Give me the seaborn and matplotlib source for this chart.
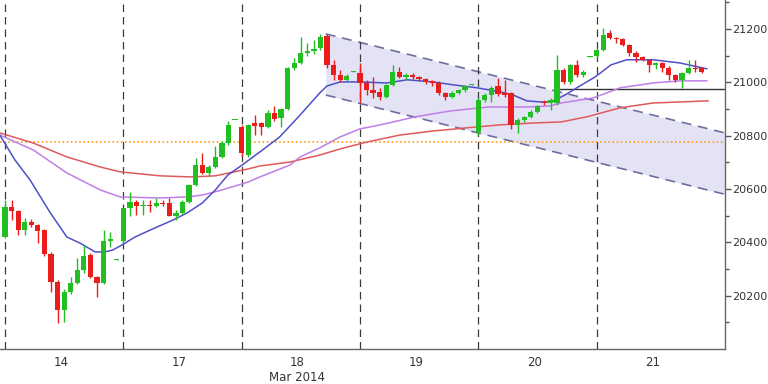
import matplotlib
matplotlib.use("Agg")
import matplotlib.pyplot as plt
import seaborn as sns
import numpy as np

# hourly candles, 14-21 Mar 2014 (18 bars per day)
opens = [20421, 20533, 20517, 20446, 20477, 20465, 20446, 20356, 20252, 20146, 20215, 20249, 20296, 20352, 20271, 20249, 20405, 20335,
         20405, 20527, 20552, 20536, 20540, 20536, 20546, 20546, 20500, 20509, 20552, 20615, 20690, 20661, 20684, 20721, 20771, 20858,
         20831, 20727, 20848, 20846, 20833, 20886, 20865, 20899, 21052, 21073, 21109, 21118, 21128, 21174, 21065, 21027, 21010, 21039,
         21034, 20996, 20971, 20965, 20946, 20990, 21040, 21019, 21027, 21021, 21011, 21004, 20996, 20961, 20946, 20961, 20969, 20991,
         20815, 20934, 20952, 20984, 20960, 20958, 20840, 20859, 20871, 20890, 20927, 20921, 20921, 21046, 21002, 21065, 21027, 21095,
         21099, 21121, 21184, 21167, 21161, 21140, 21111, 21096, 21084, 21065, 21071, 21052, 21027, 21009, 21036, 21055, 21052]
highs = [20559, 20559, 20521, 20490, 20487, 20470, 20450, 20365, 20260, 20225, 20271, 20340, 20390, 20360, 20275, 20446, 20440, 20337,
         20530, 20590, 20560, 20560, 20557, 20565, 20560, 20565, 20520, 20560, 20620, 20715, 20736, 20690, 20759, 20780, 20855, 20860,
         20840, 20845, 20877, 20850, 20895, 20909, 20905, 21058, 21090, 21171, 21146, 21158, 21180, 21180, 21083, 21046, 21030, 21041,
         21071, 21010, 21021, 20980, 20995, 21065, 21058, 21035, 21035, 21025, 21015, 21010, 21005, 20965, 20966, 20976, 20990, 20994,
         20940, 20960, 20985, 21015, 21010, 20962, 20865, 20875, 20895, 20915, 20935, 20940, 21102, 21052, 21069, 21083, 21045, 21097,
         21126, 21202, 21196, 21170, 21165, 21142, 21115, 21100, 21088, 21075, 21075, 21060, 21030, 21040, 21084, 21084, 21058]
lows = [20416, 20484, 20427, 20427, 20458, 20396, 20349, 20215, 20097, 20102, 20205, 20245, 20285, 20265, 20196, 20245, 20383, 20333,
        20398, 20500, 20502, 20502, 20515, 20533, 20535, 20497, 20483, 20505, 20548, 20610, 20655, 20650, 20680, 20715, 20765, 20857,
        20725, 20720, 20802, 20802, 20828, 20855, 20833, 20896, 21045, 21068, 21100, 21105, 21120, 21055, 21009, 21000, 21005, 21038,
        20921, 20952, 20940, 20933, 20940, 20985, 21015, 21010, 21012, 21005, 20993, 20985, 20952, 20934, 20940, 20955, 20965, 20989,
        20802, 20925, 20925, 20948, 20945, 20826, 20809, 20852, 20865, 20885, 20915, 20896, 20915, 20995, 20995, 21020, 21020, 21094,
        21092, 21115, 21160, 21146, 21135, 21100, 21076, 21078, 21039, 21050, 21040, 21009, 21000, 20977, 21030, 21040, 21035]
closes = [20533, 20517, 20446, 20477, 20465, 20443, 20356, 20252, 20146, 20215, 20249, 20296, 20349, 20271, 20249, 20405, 20411, 20336,
          20527, 20552, 20536, 20540, 20535, 20546, 20544, 20500, 20509, 20552, 20615, 20690, 20661, 20684, 20721, 20771, 20840, 20859,
          20734, 20840, 20836, 20833, 20885, 20861, 20899, 21052, 21073, 21109, 21118, 21124, 21171, 21065, 21027, 21009, 21024, 21040,
          20996, 20971, 20961, 20946, 20990, 21040, 21019, 21027, 21021, 21011, 20999, 20996, 20961, 20944, 20961, 20971, 20986, 20993,
          20934, 20952, 20977, 20955, 20952, 20840, 20859, 20871, 20890, 20909, 20921, 20934, 21046, 21002, 21065, 21027, 21040, 21096,
          21121, 21177, 21165, 21162, 21140, 21109, 21096, 21084, 21065, 21071, 21052, 21027, 21009, 21036, 21052, 21049, 21040]

# moving averages (bar position, value)
ma_fast_x = [-0.8, 1.5, 3.8, 6.9, 9.4, 11.4, 13.7, 15.2, 16.4, 17.8, 19.8, 22.1, 25.6, 27.7, 30.0, 32.0, 33.9, 36.1, 38.8, 41.8,
             44.9, 47.9, 49.0, 51.0, 54.0, 58.1, 61.2, 65.1, 68.2, 71.8, 75.3, 77.3, 79.4, 81.4, 83.1, 85.2, 87.2, 89.8, 92.2,
             94.6, 98.6, 102.7, 106.8]
ma_fast = [20802, 20709, 20634, 20510, 20420, 20397, 20364, 20364, 20371, 20390, 20420, 20446, 20484, 20510, 20547, 20596, 20652,
           20690, 20739, 20795, 20877, 20960, 20986, 21001, 21001, 20997, 21009, 21001, 20990, 20979, 20964, 20952, 20930, 20926,
           20926, 20952, 20982, 21020, 21065, 21084, 21084, 21072, 21050]
ma_mid_x = [-0.8, 4.3, 9.4, 14.5, 17.5, 23.6, 27.7, 30.0, 33.0, 37.0, 38.8, 43.4, 44.9, 47.9, 51.0, 54.0, 57.1, 62.4, 67.7, 73.5,
            79.4, 82.9, 84.6, 89.5, 93.6, 98.6, 102.7, 106.8]
ma_mid = [20802, 20746, 20660, 20596, 20570, 20566, 20570, 20577, 20596, 20626, 20645, 20690, 20720, 20754, 20795, 20825, 20840,
          20870, 20892, 20907, 20907, 20911, 20922, 20941, 20979, 20997, 21005, 21005]
ma_slow_x = [-0.8, 4.3, 9.4, 14.5, 17.5, 23.6, 28.2, 32.0, 37.0, 38.8, 43.4, 47.9, 51.0, 55.1, 60.1, 65.1, 70.3, 75.3, 80.3,
             84.6, 88.5, 93.6, 98.6, 102.7, 107.0]
ma_slow = [20810, 20772, 20720, 20682, 20664, 20649, 20645, 20649, 20675, 20686, 20701, 20727, 20750, 20776, 20802, 20817, 20829,
           20840, 20847, 20851, 20870, 20904, 20922, 20926, 20930]

# descending channel and horizontal levels
chan_x = [48.8, 109.5]
chan_top = [21181, 20810]
chan_bot = [20952, 20580]
level_orange = 20777
level_black = 20975
level_black_start = 84

day_starts = [0, 18, 36, 54, 72, 90]
day_labels = ["14", "17", "18\nMar 2014", "19", "20", "21"]

sns.set_style("white")
plt.rcParams["font.family"] = ["DejaVu Sans"]

fig = plt.figure(figsize=(7.68, 3.84), dpi=100)
ax = fig.add_axes([0, 0.0911, 0.944, 0.9089])

# channel
ax.fill_between(chan_x, chan_bot, chan_top, color="#e3e3f5", zorder=0, lw=0)
ax.plot(chan_x, chan_top, color="#6e6e9e", lw=1.2, dashes=(6, 4), zorder=1)
ax.plot(chan_x, chan_bot, color="#6e6e9e", lw=1.2, dashes=(6, 4), zorder=1)

# day separators
for d in day_starts:
    ax.axvline(d, color="#3a3a3a", lw=0.9, dashes=(6, 4), zorder=1)

ax.axhline(level_orange, color="#ff9a1a", lw=1.2, ls=(0, (1, 1.5)), zorder=1)
ax.plot([level_black_start, 109.5], [level_black, level_black], color="#333333", lw=1.0, zorder=2)

# moving averages
sns.lineplot(x=ma_slow_x, y=ma_slow, color="#e05a5a", lw=1.1, ax=ax, zorder=2)
sns.lineplot(x=ma_mid_x, y=ma_mid, color="#c07ee6", lw=1.1, ax=ax, zorder=2)
sns.lineplot(x=ma_fast_x, y=ma_fast, color="#4f4fc8", lw=1.1, ax=ax, zorder=2)

# candles
idx = np.arange(len(opens))
o = np.array(opens)
c = np.array(closes)
up = c >= o
cols = np.where(up, "#22bf22", "#ea1c1c")
ax.vlines(idx, lows, highs, colors=cols, lw=1.0, zorder=3)
body = np.maximum(np.abs(c - o), 3)
ax.bar(idx, body, bottom=np.minimum(o, c), width=0.8, color=cols, lw=0, zorder=4)

ax.set_xlim(-0.76, 109.54)
ax.set_ylim(20000, 21308)

ax.yaxis.tick_right()
ax.set_yticks(range(20200, 21201, 200))
ax.set_yticks(range(20100, 21301, 100), minor=True)
ax.tick_params(axis="y", which="major", direction="out", length=4, width=1, colors="#555555",
               labelcolor="#333333", labelsize=8, pad=1, right=True, left=False)
ax.tick_params(axis="y", which="minor", direction="out", length=3, width=1, colors="#555555", right=True, left=False)

ax.set_xticks([d + 8.5 for d in day_starts])
ax.set_xticklabels(day_labels)
ax.tick_params(axis="x", length=0, labelsize=8.5, labelcolor="#333333", pad=5)

for s in ["left", "top"]:
    ax.spines[s].set_visible(False)
for s in ["right", "bottom"]:
    ax.spines[s].set_color("#666666")
    ax.spines[s].set_linewidth(1.0)

ax.set_xlabel("")
ax.set_ylabel("")
fig.savefig("out.png", dpi=100)
